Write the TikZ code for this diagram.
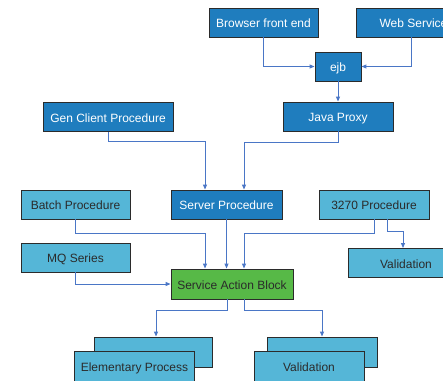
\documentclass[tikz,border=0pt]{standalone}
\usepackage{fontspec}
\setmainfont{Liberation Sans}
\usepackage{tikz}
\usetikzlibrary{arrows.meta}

\definecolor{darkbox}{HTML}{1F7DBE}
\definecolor{lightbox}{HTML}{55B6D7}
\definecolor{greenbox}{HTML}{57B947}
\definecolor{wire}{HTML}{4A76C6}
\definecolor{ink}{HTML}{2B2B2B}

\begin{document}
\begin{tikzpicture}[x=1pt, y=-1pt,
    box/.style={draw=ink, line width=0.9pt, minimum height=29pt, inner sep=0pt,
        text height=11pt, text depth=0.5pt, font=\fontsize{12}{14}\selectfont},
    dark/.style={box, fill=darkbox, text=white},
    light/.style={box, fill=lightbox, text=ink},
    sab/.style={box, fill=greenbox, text=ink, minimum height=30pt},
    wire/.style={draw=wire, line width=1pt, ->, >={Triangle[length=5pt,width=4pt]}}]

    \clip (0,0) rectangle (443,380);

    \node[dark, minimum width=109pt] (browser) at (263.5,22.5) {Browser front end};
    \node[dark, minimum width=110pt] (websvc) at (411,22.5) {\hspace{5pt}Web Service};
    \node[dark, minimum width=46pt] (ejb) at (338,66.5) {ejb};
    \node[dark, minimum width=110pt] (proxy) at (338,116.5) {Java Proxy};
    \node[dark, minimum width=130pt] (gen) at (108,117) {Gen Client Procedure};
    \node[dark, minimum width=111pt] (server) at (226.5,204.5) {Server Procedure};
    \node[light, minimum width=109pt] (batch) at (75.5,204.5) {Batch Procedure};
    \node[light, minimum width=110pt] (p3270) at (374,204.5) {3270 Procedure};
    \node[light, minimum width=109pt] (mq) at (75.5,257.5) {MQ Series};
    \node[sab, minimum width=122pt] (sab) at (232,284) {Service Action Block};
    \node[light, minimum width=116pt] (valid) at (406,263) {Validation};

    \node[light, minimum width=118pt, minimum height=30pt] (elemback) at (153,352) {};
    \node[light, minimum width=120pt, minimum height=30pt] (elem) at (134.5,366) {Elementary Process};
    \node[light, minimum width=110pt, minimum height=30pt] (valback) at (322,352) {};
    \node[light, minimum width=110pt, minimum height=30pt] (val) at (309,366) {Validation};

    \path[wire]
        (browser) |- (ejb);
    \path[wire]
        (websvc) |- (ejb);
    \path[wire]
        (ejb) -- (proxy);
    \path[wire]
        (gen.south) -- ++(0,10) -| ([xshift=-21.5pt]server.north);
    \path[wire]
        (proxy.south) -- ++(0,11) -| ([xshift=17.5pt]server.north);
    \path[wire]
        (batch.south) -- ++(0,14) -| ([xshift=-27pt]sab.north);
    \path[wire]
        (server.south) -- (server.south |- sab.north);
    \path[wire]
        (p3270.south) -- ++(0,14) -| ([xshift=12pt]sab.north);
    \path[wire]
        ([xshift=13pt]p3270.south) -- ++(0,12) -| ([xshift=-3pt]valid.north);
    \path[wire]
        (mq) |- (sab);
    \path[wire]
        ([xshift=-5pt]sab.south) -- ++(0,11) -| ([xshift=3pt]elemback.north);
    \path[wire]
        ([xshift=12pt]sab.south) -- ++(0,11) -| (valback.north);

\end{tikzpicture}
\end{document}
